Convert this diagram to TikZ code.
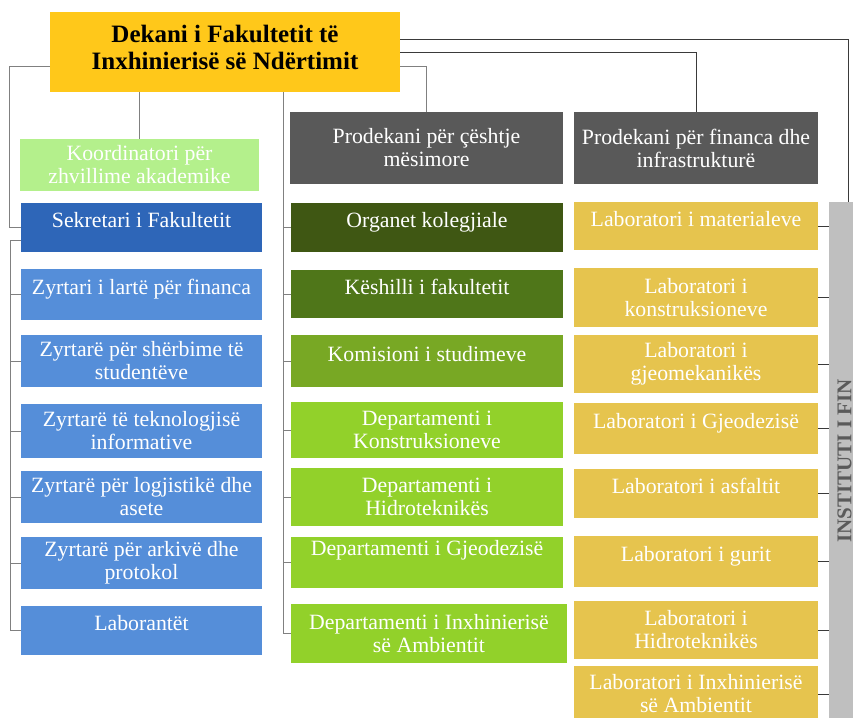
\documentclass[tikz,border=0pt]{standalone}
\usepackage{fontspec}
\setmainfont{Liberation Serif}
\usepackage{graphicx}
\usepackage{tikz}
\definecolor{deanYellow}{HTML}{FFC81A}
\definecolor{coordGreen}{HTML}{B4F08C}
\definecolor{prodGray}{HTML}{595959}
\definecolor{sekBlue}{HTML}{2E66B8}
\definecolor{staffBlue}{HTML}{558ED9}
\definecolor{organGreen}{HTML}{3F5713}
\definecolor{councilGreen}{HTML}{4F7619}
\definecolor{commGreen}{HTML}{78A824}
\definecolor{deptGreen}{HTML}{92D12A}
\definecolor{labYellow}{HTML}{E6C44E}
\definecolor{barGray}{HTML}{BFBFBF}
\definecolor{instGray}{HTML}{5A5A5A}
\definecolor{linkGray}{HTML}{808080}
\definecolor{linkDark}{HTML}{3A3A3A}

\begin{document}
\begin{tikzpicture}[x=1pt,y=1pt]
\tikzstyle{every node}+=[inner sep=0pt, align=center, text=white, font=\fontsize{21.8}{23}\selectfont]
\tikzstyle{link}=[draw=linkGray, line width=0.9pt]
\tikzstyle{linkdark}=[draw=linkDark, line width=0.9pt]
\tikzstyle{oneline}=[text height=15pt, text depth=15pt]
\tikzstyle{staff}=[fill=staffBlue, minimum width=241pt]
\tikzstyle{body}=[minimum width=272pt]
\tikzstyle{lab}=[fill=labYellow, minimum width=244pt]
\useasboundingbox (0,0) rectangle (853,-717);
\clip (0,0) rectangle (853,-717);
\fill [white] (0,0) rectangle (853,-717);
\node [fill=deanYellow, text=black, text depth=10pt, minimum width=350pt, minimum height=80pt, font=\bfseries\fontsize{25}{27}\selectfont] (dean) at (225,-52) {Dekani i Fakultetit të\\Inxhinierisë së Ndërtimit};
\node [fill=coordGreen, minimum width=239pt, minimum height=52pt] (coord) at (139.5,-165) {Koordinatori për\\zhvillime akademike};
\node [fill=prodGray, minimum width=273pt, minimum height=72pt] (prodA) at (426.5,-148) {Prodekani për çështje\\mësimore};
\node [fill=prodGray, minimum width=244pt, minimum height=72pt] (prodB) at (696,-148) {Prodekani për financa dhe\\infrastrukturë};
\node [staff, fill=sekBlue, oneline, minimum height=49pt] (sek) at (141.5,-227.5) {Sekretari i Fakultetit};
\node [staff, oneline, minimum height=51pt] (zA) at (141.5,-294.5) {Zyrtari i lartë për financa};
\node [staff, minimum height=52pt] (zB) at (141.5,-361) {Zyrtarë për shërbime të\\studentëve};
\node [staff, minimum height=54pt] (zC) at (141.5,-431) {Zyrtarë të teknologjisë\\informative};
\node [staff, minimum height=52pt] (zD) at (141.5,-497) {Zyrtarë për logjistikë dhe\\asete};
\node [staff, minimum height=52pt] (zE) at (141.5,-563) {Zyrtarë për arkivë dhe\\protokol};
\node [staff, oneline, minimum height=49pt] (zF) at (141.5,-630.5) {Laborantët};
\node [body, fill=organGreen, oneline, minimum height=49pt] (org) at (427,-227.5) {Organet kolegjiale};
\node [body, fill=councilGreen, oneline, minimum height=48pt] (kes) at (427,-294) {Këshilli i fakultetit};
\node [body, fill=commGreen, oneline, minimum height=52pt] (kom) at (427,-361) {Komisioni i studimeve};
\node [body, fill=deptGreen, minimum height=56pt] (depA) at (427,-430) {Departamenti i\\Konstruksioneve};
\node [body, fill=deptGreen, minimum height=58pt] (depB) at (427,-497) {Departamenti i\\Hidroteknikës};
\node [body, fill=deptGreen, oneline, text depth=29pt, minimum height=51pt] (depC) at (427,-562.5) {Departamenti i Gjeodezisë};
\node [fill=deptGreen, minimum width=276pt, minimum height=59pt] (depD) at (429,-633.5) {Departamenti i Inxhinierisë\\së Ambientit};
\node [lab, oneline, minimum height=48pt] (labA) at (696,-226) {Laboratori i materialeve};
\node [lab, minimum height=59pt] (labB) at (696,-297.5) {Laboratori i\\konstruksioneve};
\node [lab, minimum height=58pt] (labC) at (696,-364) {Laboratori i\\gjeomekanikës};
\node [lab, oneline, minimum height=51pt] (labD) at (696,-428.5) {Laboratori i Gjeodezisë};
\node [lab, oneline, minimum height=49pt] (labE) at (696,-493.5) {Laboratori i asfaltit};
\node [lab, oneline, minimum height=51pt] (labF) at (696,-561.5) {Laboratori i gurit};
\node [lab, minimum height=58pt] (labG) at (696,-630) {Laboratori i\\Hidroteknikës};
\node [lab, minimum height=56pt] (labH) at (696,-694) {Laboratori i Inxhinierisë\\së Ambientit};
\node [fill=barGray, text=instGray, minimum width=31pt, minimum height=518pt, font=\bfseries\fontsize{21}{23}\selectfont] (inst) at (844.5,-461) {\rotatebox{90}{INSTITUTI I FIN}};
\coordinate (spineX) at (283,0);
\draw [link] ([yshift=-14pt]dean.west) -- ++(-40,0) |- (sek.west);
\draw [link] ([yshift=-12.5pt]sek.west) -- ++(-10,0) |- (zF.west);
\foreach \n in {zA,zB,zC,zD,zE}
  \draw [link] (\n.west) -- ++(-10,0);
\draw [link] (dean.south -| coord.north) -- (coord.north);
\draw [link] (dean.south -| spineX) |- (depD.west);
\foreach \n in {org,kes,kom,depA,depB,depC}
  \draw [link] (\n.west) -- (\n.west -| spineX);
\draw [link] ([yshift=-14pt]dean.east) -| (prodA.north);
\draw [linkdark] (dean.east) -| (prodB.north);
\draw [linkdark] ([yshift=13pt]dean.east) -| ([xshift=3.5pt]inst.north);
\foreach \n in {labA,labB,labC,labD,labE,labF,labG,labH}
  \draw [linkdark] (\n.east) -- (\n.east -| inst.west);
\end{tikzpicture}
\end{document}
